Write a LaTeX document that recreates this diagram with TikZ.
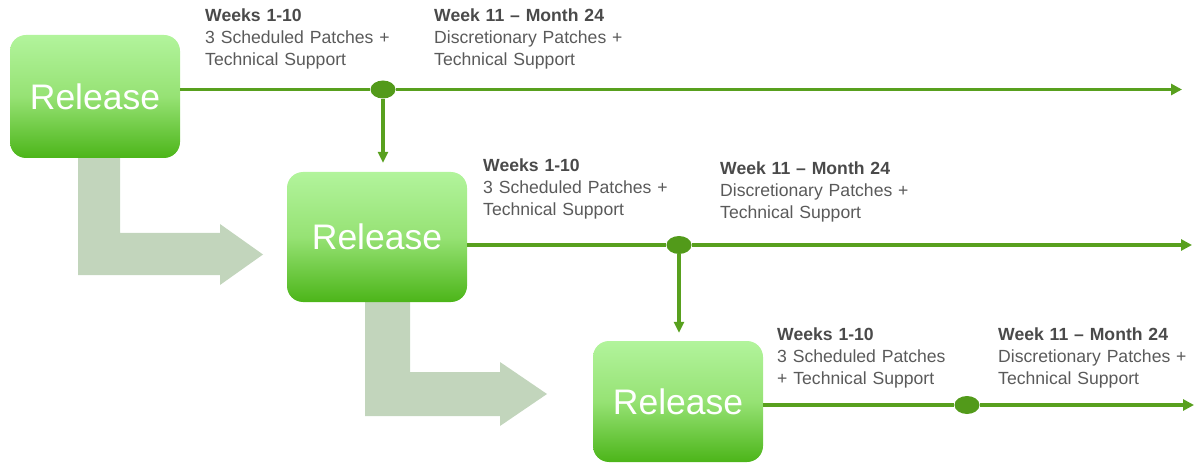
\documentclass[tikz,border=0pt]{standalone}
\usepackage{fontspec}
\setmainfont{Liberation Sans}
\usetikzlibrary{arrows.meta,shapes.geometric,calc}

\definecolor{linegreen}{HTML}{58A01E}
\definecolor{dotgreen}{HTML}{529A1A}
\definecolor{boxtop}{HTML}{B2F49C}
\definecolor{boxmid}{HTML}{96E274}
\definecolor{boxbot}{HTML}{4CB519}
\definecolor{flowgray}{HTML}{C2D5BC}
\definecolor{headtext}{HTML}{4A4A4A}
\definecolor{bodytext}{HTML}{5A5A5A}

\tikzset{
  release/.style={rounded corners=16pt, top color=boxtop, bottom color=boxbot,
    middle color=boxmid, text=white, inner sep=0pt,
    font=\fontsize{35.5}{40}\selectfont},
  milestone/.style={ellipse, fill=dotgreen, minimum width=25pt, minimum height=18pt, inner sep=0pt},
  timeline/.style={draw=linegreen, line width=3.2pt, -{Triangle[length=11pt,width=11pt]}},
  drop/.style={draw=linegreen, line width=3.2pt, -{Triangle[length=11pt,width=10pt]}},
  phase/.style={anchor=base west, align=left, text width=260pt, inner sep=0pt,
    text=bodytext, font=\fontsize{17.6}{22}\selectfont},
  flow/.style={fill=flowgray, draw=none}
}
\newcommand{\phasehead}[1]{{\bfseries\color{headtext}#1}}

\begin{document}
\begin{tikzpicture}[x=1pt,y=-1pt]
  \useasboundingbox (0,0) rectangle (1194,465);

  % broad hand-over arrows between successive releases
  \fill[flow] (78,150) -- (120,150) -- (120,233) -- (220,233) -- (220,224)
     -- (263,254.5) -- (220,285) -- (220,275) -- (78,275) -- cycle;
  \fill[flow] (365,295) -- (410,295) -- (410,372) -- (500,372) -- (500,362)
     -- (547,394) -- (500,426) -- (500,416) -- (365,416) -- cycle;

  % release boxes
  \node[release, minimum width=170pt, minimum height=123pt] (b1) at (95,96.5) {Release};
  \node[release, minimum width=180pt, minimum height=130pt] (b2) at (377,237) {Release};
  \node[release, minimum width=170pt, minimum height=121pt] (b3) at (678,401.5) {Release};

  % milestones
  \node[milestone] (d1) at (383,89.5) {};
  \node[milestone] (d2) at (679,245) {};
  \node[milestone] (d3) at (967,405) {};

  % free ends of the timelines
  \coordinate (e1) at (1182,89.5);
  \coordinate (e2) at (1192,245);
  \coordinate (e3) at (1194,405);

  % timelines
  \draw[timeline] (b1.east |- d1) -- (d1) -- (e1);
  \draw[timeline] (b2.east |- d2) -- (d2) -- (e2);
  \draw[timeline] (b3.east |- d3) -- (d3) -- (e3);

  % drops to the next release
  \draw[drop, shorten >=9pt] (d1) -- (d1 |- b2.north);
  \draw[drop, shorten >=8pt] (d2) -- (d2 |- b3.north);

  % phase labels
  \node[phase] (t1a) at (205,22) {\phasehead{Weeks 1-10}\\3 Scheduled Patches +\\Technical Support};
  \node[phase] (t1b) at (434,22) {\phasehead{Week 11 – Month 24}\\Discretionary Patches +\\Technical Support};
  \node[phase] (t2a) at (483,172) {\phasehead{Weeks 1-10}\\3 Scheduled Patches +\\Technical Support};
  \node[phase] (t2b) at (720,175) {\phasehead{Week 11 – Month 24}\\Discretionary Patches +\\Technical Support};
  \node[phase] (t3a) at (777,340) {\phasehead{Weeks 1-10}\\3 Scheduled Patches\\+ Technical Support};
  \node[phase] (t3b) at (998,340) {\phasehead{Week 11 – Month 24}\\Discretionary Patches +\\Technical Support};
\end{tikzpicture}
\end{document}
